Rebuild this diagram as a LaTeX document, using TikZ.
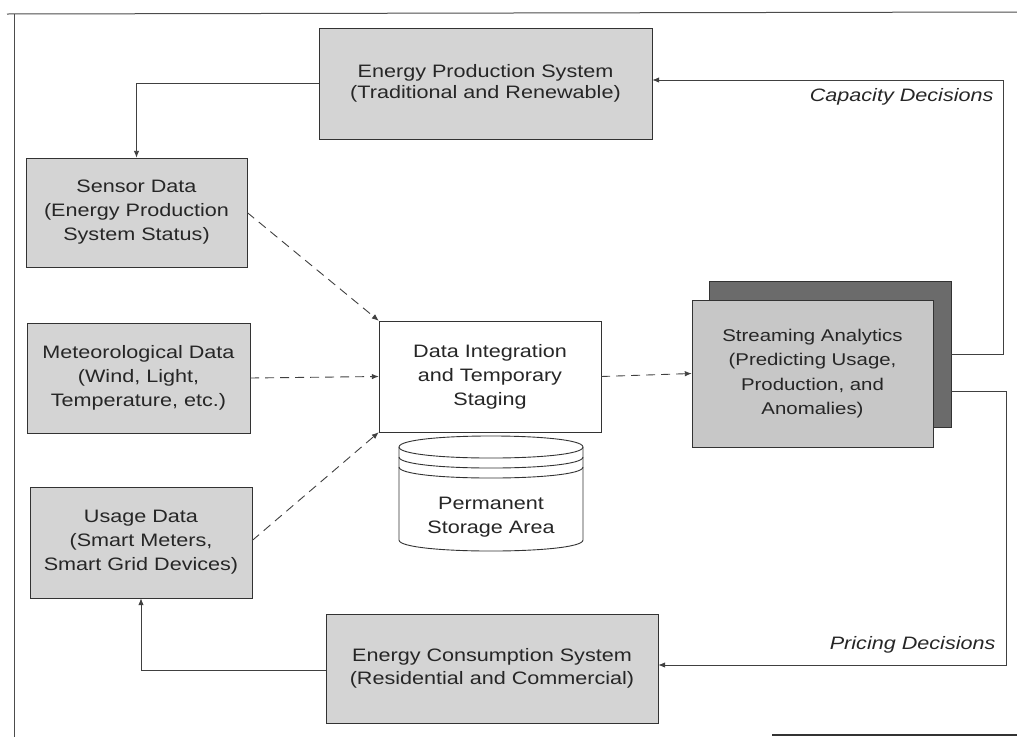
\documentclass[tikz,border=0pt]{standalone}
\usepackage{fontspec}
\setmainfont{Liberation Sans}[FakeStretch=1.2]
\usetikzlibrary{arrows.meta, positioning}
\tikzset{box/.style={rectangle,draw=black!80,fill=black!17,align=center,inner sep=3pt,text=black!85,font=\fontsize{18}{24}\selectfont},line/.style={-{Latex[length=7pt,width=5.5pt]},draw=black!75,line width=0.9pt},dline/.style={line,dash pattern=on 9pt off 6pt},lbl/.style={text=black!85,font=\fontsize{18}{24}\selectfont\itshape},cyl/.style={draw=black!80,line width=0.9pt}}

\begin{document}
\begin{tikzpicture}[x=1pt,y=-1pt]
\useasboundingbox (0,0) rectangle (1017,737);
% page frame
\draw[black!70,line width=1pt] (7,14) -- (1017,12);
\draw[black!70,line width=1pt] (14,14) -- (14,737);
\draw[black!80,line width=1.5pt] (772,735) -- (1017,735);
% systems
\node[box,minimum width=333pt,minimum height=111pt,font=\fontsize{18}{21}\selectfont] (eps) at (485.5,83.5) {Energy Production System\\(Traditional and Renewable)};
\node[box,minimum width=332pt,minimum height=109pt,font=\fontsize{18}{23}\selectfont] (ecs) at (492,668.5) {Energy Consumption System\\(Residential and Commercial)};
% data sources
\node[box,minimum width=221pt,minimum height=109pt] (sensor) at (136.5,212.5) {Sensor Data\\(Energy Production\\System Status)};
\node[box,minimum width=223pt,minimum height=110pt] (met) at (138.5,378) {Meteorological Data\\(Wind, Light,\\Temperature, etc.)};
\node[box,minimum width=222pt,minimum height=111pt] (usage) at (141,542.5) {Usage Data\\(Smart Meters,\\Smart Grid Devices)};
% integration and analytics
\node[box,fill=white,minimum width=222pt,minimum height=111pt] (di) at (490,376.5) {Data Integration\\and Temporary\\Staging};
\node[box,fill=black!58,minimum width=242pt,minimum height=146pt] (saback) at (830,354) {};
\node[box,fill=black!22,minimum width=241pt,minimum height=147pt,font=\fontsize{17}{24.5}\selectfont] (safront) at (812.5,373.5) {Streaming Analytics\\(Predicting Usage,\\Production, and\\Anomalies)};
% storage cylinder
\fill[white] (399,447) .. controls (399,432.3) and (583,432.3) .. (583,447) -- (583,540) .. controls (583,554.7) and (399,554.7) .. (399,540) -- cycle;
\draw[cyl] (399,447) .. controls (399,432.3) and (583,432.3) .. (583,447) .. controls (583,461.7) and (399,461.7) .. (399,447);
\foreach \y in {457,467}
  \draw[cyl] (399,\y) .. controls (399,\y+14.7) and (583,\y+14.7) .. (583,\y);
\draw[cyl] (399,447) -- (399,540) .. controls (399,554.7) and (583,554.7) .. (583,540) -- (583,447);
\node[align=center,text=black!85,font=\fontsize{18}{24}\selectfont] (store) at (491,517) {Permanent\\Storage Area};
% connectors
\draw[line] (eps.west) -| (sensor.north);
\draw[dline] (sensor.east) -- (di.north west);
\draw[dline] (met.east) -- (di.west);
\draw[dline] ([yshift=2pt]usage.east) -- (di.south west);
\draw[dline] (di.east) -- (safront.west);
\draw[line] (saback.east) -- ++(52,0) |- ([yshift=3.5pt]eps.east);
\draw[line] ([yshift=-37pt]saback.east) -- ++(55,0) |- ([yshift=3.5pt]ecs.east);
\draw[line] ([yshift=-1.5pt]ecs.west) -| (usage.south);
\node[lbl,anchor=east] (cap) at (997,97) {Capacity Decisions};
\node[lbl,anchor=east] (price) at (999,645) {Pricing Decisions};
\end{tikzpicture}
\end{document}
